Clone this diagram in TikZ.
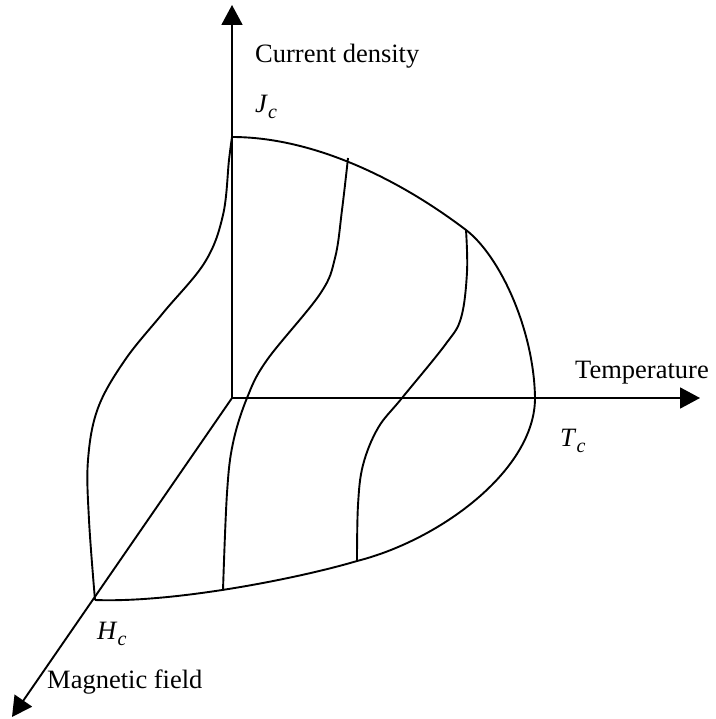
\documentclass[tikz,border=0pt]{standalone}
\usepackage{fontspec}
\setmainfont{Liberation Serif}
\usetikzlibrary{arrows.meta}
\tikzset{
  axis/.style={line width=1.9pt,-{Triangle[length=20pt,width=21pt]}},
  curve/.style={line width=1.9pt,line join=round},
  lbl/.style={font=\fontsize{26.5}{26.5}\selectfont,inner sep=0pt,anchor=base west},
}
\newcommand{\critlab}[1]{\textit{#1}\raisebox{-6pt}{\fontsize{20}{20}\selectfont\textit{c}}}
\begin{document}
\begin{tikzpicture}[x=1pt,y=-1pt]
\useasboundingbox (0,0) rectangle (715,719);
\coordinate (O) at (232,398);
\coordinate (Jtip) at (232,5);
\coordinate (Ttip) at (700,398);
\coordinate (Htip) at (12,717);
\coordinate (Jc) at (232,137);
\coordinate (Hc) at (95,600);
\coordinate (Tc) at (535,398);
\coordinate (A) at (348,158);
\coordinate (B) at (466,230);
\coordinate (C) at (223,590);
\coordinate (D) at (357,561);
\draw[axis] (O) -- (Jtip);
\draw[axis] (O) -- (Ttip);
\draw[axis] (O) -- (Htip);
% outer boundary
\draw[curve] (Jc) .. controls (310,137) and (395,176) .. (B)
  .. controls (500,256) and (534,330) .. (Tc)
  .. controls (535,470) and (440,540) .. (D)
  .. controls (300,578) and (175,603) .. (Hc);
% curve 1
\draw[curve] plot[smooth,tension=0.6] coordinates {(Jc) (229,160) (223,215) (205,262) (163,313) (125,360) (98,408) (88,460) (89,520) (Hc)};
% curve 2
\draw[curve] plot[smooth,tension=0.6] coordinates {(A) (342,210) (335,258) (320,294) (267,360) (247,398) (233,443) (227,493) (C)};
% curve 3
\draw[curve] plot[smooth,tension=0.6] coordinates {(B) (467,272) (461,318) (445,345) (402,398) (378,428) (363,465) (358,505) (D)};
\node[lbl] (cd) at (255,63) {Current density};
\node[lbl] (tp) at (575,378) {Temperature};
\node[lbl] (mf) at (47,688) {Magnetic field};
\node[lbl] (jl) at (255,113) {\critlab{J}};
\node[lbl] (tl) at (560,446) {\critlab{T}};
\node[lbl] (hl) at (97,639) {\critlab{H}};
\end{tikzpicture}
\end{document}
